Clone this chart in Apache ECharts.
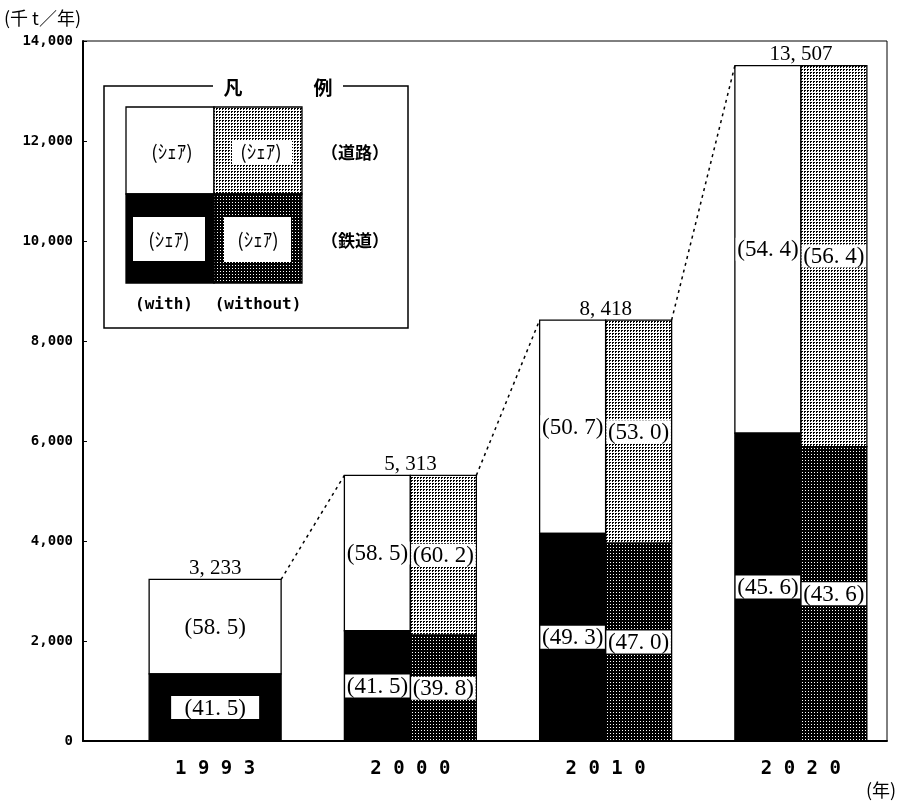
<!DOCTYPE html>
<html>
<head>
<meta charset="utf-8">
<script src="https://cdn.jsdelivr.net/npm/echarts@6/dist/echarts.min.js"></script>
<style>
  html, body { margin: 0; padding: 0; background: #fff; }
  #main { width: 910px; height: 804px; }
</style>
</head>
<body>
<div id="main"></div>
<script>
// 年次と貨物量(千t/年)
var years = ['1993', '2000', '2010', '2020'];
var totals = [3233, 5313, 8418, 13507];
// シェア(%) with / without
var railWith = [41.5, 41.5, 49.3, 45.6];
var roadWith = [58.5, 58.5, 50.7, 54.4];
var railWithout = [null, 39.8, 47.0, 43.6];
var roadWithout = [null, 60.2, 53.0, 56.4];
var yTicks = [0, 2000, 4000, 6000, 8000, 10000, 12000, 14000];

// 網掛けパターン
function dots(bg, fg, pts) {
    var c = document.createElement('canvas');
    c.width = 3; c.height = 3;
    var ctx = c.getContext('2d');
    ctx.fillStyle = bg; ctx.fillRect(0, 0, 3, 3);
    ctx.fillStyle = fg;
    pts.forEach(function (p) { ctx.fillRect(p[0], p[1], 1, 1); });
    return { image: c, repeat: 'repeat' };
}
var lightDots = dots('#fff', '#000', [[0, 0], [1, 0], [0, 1]]);
var darkDots = dots('#000', '#fff', [[1, 1]]);

var serif = '23px "Liberation Serif"';

function shareText(v) {
    return '(' + v.toFixed(1).replace('.', '. ') + ')';
}
function totalText(v) {
    return v.toLocaleString('en-US').replace(',', ', ');
}

function renderBars(params, api) {
    var i = params.dataIndex;
    var band = api.size([1, 0])[0];
    var w = band * 0.338;
    var base = api.coord([i, 0]);
    var cx = base[0], y0 = base[1];
    var yTop = api.coord([i, totals[i]])[1];
    var bars = [], boxes = [], texts = [];

    function label(x, y, v, boxW) {
        boxes.push({ type: 'rect', shape: { x: x - boxW / 2, y: y - 11.5, width: boxW, height: 23 },
            style: { fill: '#fff' } });
        texts.push({ type: 'text', x: x, y: y + 1,
            style: { text: shareText(v), font: serif, fill: '#000', textAlign: 'center', textVerticalAlign: 'middle' } });
    }

    function column(x, width, rail, road, railFill, roadFill, boxW) {
        var yRail = api.coord([i, totals[i] * rail / 100])[1];
        bars.push({ type: 'rect', shape: { x: x, y: yTop, width: width, height: yRail - yTop },
            style: { fill: roadFill, stroke: '#000', lineWidth: 1.3 } });
        bars.push({ type: 'rect', shape: { x: x, y: yRail, width: width, height: y0 - yRail },
            style: { fill: railFill, stroke: '#000', lineWidth: 1.3 } });
        label(x + width / 2, (yRail + y0) / 2, rail, boxW);
        label(x + width / 2, (yTop + yRail) / 2, road, boxW);
    }

    if (railWithout[i] == null) {
        column(cx - w, 2 * w, railWith[i], roadWith[i], '#000', '#fff', 88);
    } else {
        column(cx - w, w, railWith[i], roadWith[i], '#000', '#fff', w - 1.5);
        column(cx, w, railWithout[i], roadWithout[i], darkDots, lightDots, w - 1.5);
    }

    texts.push({ type: 'text', x: cx, y: yTop - 11,
        style: { text: totalText(totals[i]), font: '21px "Liberation Serif"', fill: '#000', textAlign: 'center', textVerticalAlign: 'middle' } });

    // 前年次との点線
    if (i > 0) {
        var px = api.coord([i - 1, 0])[0] + w;
        var py = api.coord([i - 1, totals[i - 1]])[1];
        texts.push({ type: 'line', shape: { x1: px, y1: py, x2: cx - w, y2: yTop },
            style: { stroke: '#000', lineWidth: 1.5, lineDash: [3, 4] } });
    }

    return { type: 'group', children: bars.concat(boxes, texts) };
}

var chart = echarts.init(document.getElementById('main'));

var legendBox = [
    { type: 'rect', shape: { x: 104, y: 86, width: 304, height: 242 }, style: { fill: '#fff', stroke: '#000', lineWidth: 1.5 } },
    { type: 'rect', shape: { x: 213, y: 80, width: 130, height: 14 }, style: { fill: '#fff' } },
    { type: 'text', x: 233, y: 88, style: { text: '凡', font: 'bold 19px "Noto Sans CJK JP"', fill: '#000', textAlign: 'center', textVerticalAlign: 'middle' } },
    { type: 'text', x: 323, y: 88, style: { text: '例', font: 'bold 19px "Noto Sans CJK JP"', fill: '#000', textAlign: 'center', textVerticalAlign: 'middle' } },
    { type: 'rect', shape: { x: 126, y: 107, width: 88, height: 87 }, style: { fill: '#fff', stroke: '#000', lineWidth: 1.3 } },
    { type: 'rect', shape: { x: 214, y: 107, width: 88, height: 87 }, style: { fill: lightDots, stroke: '#000', lineWidth: 1.3 } },
    { type: 'rect', shape: { x: 126, y: 194, width: 88, height: 89 }, style: { fill: '#000', stroke: '#000', lineWidth: 1.3 } },
    { type: 'rect', shape: { x: 214, y: 194, width: 88, height: 89 }, style: { fill: darkDots, stroke: '#000', lineWidth: 1.3 } },
    { type: 'rect', shape: { x: 133, y: 217, width: 72, height: 44 }, style: { fill: '#fff' } },
    { type: 'rect', shape: { x: 224, y: 217, width: 67, height: 45 }, style: { fill: '#fff' } },
    { type: 'rect', shape: { x: 232, y: 141, width: 60, height: 24 }, style: { fill: '#fff' } }
];
[[172, 152], [261, 152], [169, 240], [258, 240]].forEach(function (p) {
    legendBox.push({ type: 'text', x: p[0], y: p[1], style: { text: '(ｼｪｱ)', font: '19px "Noto Sans CJK JP"', fill: '#000', textAlign: 'center', textVerticalAlign: 'middle' } });
});
legendBox.push(
    { type: 'text', x: 355, y: 153, style: { text: '（道路）', font: 'bold 17px "Noto Sans CJK JP"', fill: '#000', textAlign: 'center', textVerticalAlign: 'middle' } },
    { type: 'text', x: 355, y: 241, style: { text: '（鉄道）', font: 'bold 17px "Noto Sans CJK JP"', fill: '#000', textAlign: 'center', textVerticalAlign: 'middle' } },
    { type: 'text', x: 164, y: 305, style: { text: '(with)', font: 'bold 16px "DejaVu Sans Mono"', fill: '#000', textAlign: 'center', textVerticalAlign: 'middle' } },
    { type: 'text', x: 258, y: 305, style: { text: '(without)', font: 'bold 16px "DejaVu Sans Mono"', fill: '#000', textAlign: 'center', textVerticalAlign: 'middle' } },
    { type: 'text', x: 4, y: 18, style: { text: '(千 t／年)', font: '18px "Noto Sans CJK JP"', fill: '#000', textAlign: 'left', textVerticalAlign: 'middle' } },
    { type: 'text', x: 866, y: 790, style: { text: '(年)', font: '18px "Noto Sans CJK JP"', fill: '#000', textAlign: 'left', textVerticalAlign: 'middle' } }
);

var option = {
    backgroundColor: '#fff',
    animation: false,
    grid: [
        { left: 83, right: 23, top: 41, bottom: 63, show: true, borderColor: '#000', borderWidth: 1 },
        { left: 117.5, right: 11.5, top: 41, bottom: 63 }
    ],
    xAxis: [
        { gridIndex: 0, type: 'value', min: 0, max: 1,
          axisLine: { show: true, lineStyle: { color: '#000', width: 2 } },
          axisTick: { show: false }, axisLabel: { show: false }, splitLine: { show: false } },
        { gridIndex: 1, type: 'category', data: years,
          axisLine: { show: false }, axisTick: { show: false }, splitLine: { show: false },
          axisLabel: { margin: 19, color: '#000', fontFamily: 'DejaVu Sans Mono', fontWeight: 'bold', fontSize: 19,
                       formatter: function (v) { return v.split('').join(' '); } } }
    ],
    yAxis: [
        { gridIndex: 0, type: 'value', min: yTicks[0], max: yTicks[yTicks.length - 1], interval: 2000,
          axisLine: { show: true, lineStyle: { color: '#000', width: 2 } },
          axisTick: { show: true, inside: true, length: 4, lineStyle: { color: '#000' } },
          splitLine: { show: false },
          axisLabel: { margin: 10, color: '#000', fontFamily: 'DejaVu Sans Mono', fontWeight: 'bold', fontSize: 14,
                       formatter: function (v) { return v.toLocaleString('en-US'); } } },
        { gridIndex: 1, type: 'value', min: 0, max: 14000, show: false }
    ],
    graphic: legendBox,
    series: [{
        type: 'custom',
        xAxisIndex: 1,
        yAxisIndex: 1,
        renderItem: renderBars,
        data: years.map(function (y, i) { return [i, totals[i]]; })
    }]
};
chart.setOption(option);
</script>
</body>
</html>
